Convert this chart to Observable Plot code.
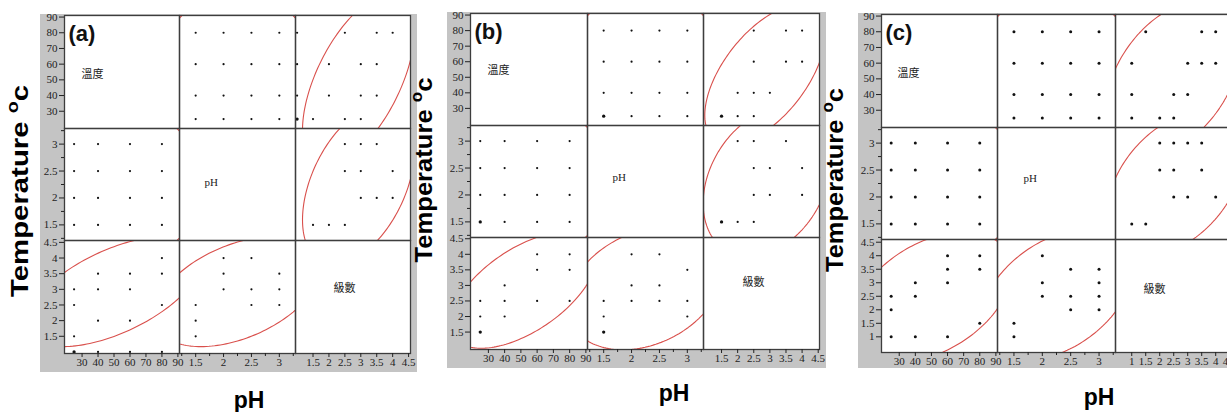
<!DOCTYPE html>
<html>
<head>
<meta charset="utf-8">
<script src="https://cdn.jsdelivr.net/npm/d3@7"></script>
<script src="https://cdn.jsdelivr.net/npm/@observablehq/plot@0.6"></script>
<style>
  html, body { margin: 0; padding: 0; background: #fff; }
  body { width: 1227px; height: 412px; overflow: hidden; position: relative; font-family: "Liberation Sans", Arial, sans-serif; }
  .band { position: absolute; background: #c4c4c4; overflow: hidden; }
  .plotarea { position: absolute; background: #fff; }
  .cell { position: absolute; }
  #titles { position: absolute; left: 0; top: 0; }
</style>
</head>
<body>
<script>
// ---------------- data ----------------
const variableNames = ["溫度", "pH", "級數"];
const tempLevels = [25, 40, 60, 80];
const phLevels = [1.5, 2, 2.5, 3];

const tempTicks = [30, 40, 50, 60, 70, 80, 90];
const phTicks = [1.5, 2, 2.5, 3];
const phMinorTicks = [1.25, 1.75, 2.25, 2.75, 3.25];
const gradeTicksAB = [1.5, 2, 2.5, 3, 3.5, 4, 4.5];
const gradeTicksC = [1, 1.5, 2, 2.5, 3, 3.5, 4, 4.5];

const tempDomain = [19, 91];
const phDomain = [1.21, 3.29];
const gradeDomainA = [0.95, 4.56];
const gradeDomainB = [0.94, 4.54];
const gradeDomainC = [0.42, 4.6];

// extra (replicated) temperature / pH runs beyond the 4x4 grid
const tempPhExtraA = [];
const tempPhExtraB = [[25, 1.5]];
const tempPhExtraC = [];

// [temperature, grade]
const tempGradeA = [[80,1],[80,2.5],[80,3.5],[80,4],[60,1],[60,2],[60,3],[60,3.5],[40,1],[40,2],[40,3],[40,3.5],[25,1],[25,1],[25,1.5],[25,2.5],[25,3]];
const tempGradeB = [[80,2.5],[80,3.5],[80,4],[60,2.5],[60,3.5],[60,4],[40,2],[40,2.5],[40,3],[25,1.5],[25,1.5],[25,2],[25,2.5]];
const tempGradeC = [[80,1.5],[80,3.5],[80,4],[60,1],[60,3],[60,3.5],[60,4],[40,1],[40,2.5],[40,3],[25,1],[25,2],[25,2.5]];

// [pH, grade]
const phGradeA = [[1.5,1.5],[1.5,2],[1.5,2.5],[2,3],[2,3.5],[2,4],[2.5,2.5],[2.5,3],[2.5,4],[3,2.5],[3,3],[3,3.5]];
const phGradeB = [[1.5,1.5],[1.5,1.5],[1.5,2],[1.5,2.5],[2,2.5],[2,3],[2,4],[2.5,2.5],[2.5,3],[2.5,4],[3,2],[3,2.5],[3,3.5]];
const phGradeC = [[1.5,1],[1.5,1.5],[2,2.5],[2,3],[2,4],[2.5,2],[2.5,2.5],[2.5,3.5],[3,2],[3,2.5],[3,3],[3,3.5]];

// 95% density ellipses: [meanX, meanY, halfRangeX, halfRangeY, correlation]
const ellipseTempPhA = [50, 2.25, 55, 1.49, 0];
const ellipseTempGradeA = [50, 2.93, 55, 1.76, 0.58];
const ellipsePhGradeA = [2.25, 2.93, 1.49, 1.76, 0.44];
const ellipseTempPhB = [50, 2.25, 55, 1.5, 0];
const ellipseTempGradeB = [51.7, 2.85, 45.0, 1.87, 0.58];
const ellipsePhGradeB = [2.241, 2.904, 1.388, 1.975, 0.285];
const ellipseTempPhC = [50, 2.25, 55, 1.5, 0];
const ellipseTempGradeC = [50, 2.47, 49.7, 2.41, 0.41];
const ellipsePhGradeC = [2.25, 2.555, 1.34, 2.43, 0.41];

const panelLabels = ["(a)", "(b)", "(c)"];

// ---------------- layout ----------------
const SERIF = "'Liberation Serif', 'Times New Roman', serif";
const SANS = "'Liberation Sans', Arial, sans-serif";
const CJK = "'Noto Sans CJK TC', 'Noto Sans CJK SC', sans-serif";
const RED = "#d9504c";
const fmt = d3.format("~g");

const panelDefs = [
  {label: panelLabels[0], band: [40, 14, 417, 372], xs: [64, 179, 295, 410], ys: [15, 128, 240, 353],
   gradeDomain: gradeDomainA, gradeTicks: gradeTicksAB, tpExtra: tempPhExtraA, tg: tempGradeA, pg: phGradeA,
   etp: ellipseTempPhA, etg: ellipseTempGradeA, epg: ellipsePhGradeA, dotR: 1.1,
   diag: [[17, 2], [25, -2], [38, -9]]},
  {label: panelLabels[1], band: [447, 12, 826, 368], xs: [470, 587, 703, 819], ys: [13, 125, 237, 349],
   gradeDomain: gradeDomainB, gradeTicks: gradeTicksAB, tpExtra: tempPhExtraB, tg: tempGradeB, pg: phGradeB,
   etp: ellipseTempPhB, etg: ellipseTempGradeB, epg: ellipsePhGradeB, dotR: 1.1,
   diag: [[17, 1], [25, -4], [39, -11]]},
  {label: panelLabels[2], band: [858, 13, 1240, 368], xs: [881, 997, 1115, 1232], ys: [14, 127, 239, 352],
   gradeDomain: gradeDomainC, gradeTicks: gradeTicksC, tpExtra: tempPhExtraC, tg: tempGradeC, pg: phGradeC,
   etp: ellipseTempPhC, etg: ellipseTempGradeC, epg: ellipsePhGradeC, dotR: 1.5,
   diag: [[16, 2], [26, -5], [28, -7]]}
];

function ellipsePath([mx, my, ex, ey, r]) {
  const s = Math.sqrt(1 - r * r);
  return d3.range(0, 362, 2).map(deg => {
    const t = deg * Math.PI / 180;
    return [mx + ex * Math.cos(t), my + ey * (r * Math.cos(t) + s * Math.sin(t))];
  });
}

function makeCell(P, vars, pairs, ellipses, i, j) {
  const cw = P.xs[j + 1] - P.xs[j], ch = P.ys[i + 1] - P.ys[i];
  const ml = j === 0 ? 32 : 0, mb = i === 2 ? 24 : 0;
  const vx = vars[j], vy = vars[i];
  const marks = [];
  if (i === j) {
    marks.push(Plot.text([vx.name], {text: d => d, frameAnchor: "left", dx: P.diag[i][0], dy: P.diag[i][1],
      fontSize: 11, fontFamily: i === 1 ? SERIF : CJK, fill: "#222"}));
  } else {
    const a = Math.min(i, j), b = Math.max(i, j);
    const key = `${a}${b}`;
    const flip = j > i;
    const X = flip ? d => d[1] : d => d[0];
    const Y = flip ? d => d[0] : d => d[1];
    marks.push(Plot.line(ellipsePath(ellipses[key]), {x: X, y: Y, stroke: RED, strokeWidth: 1.1, clip: true}));
    marks.push(Plot.dot(pairs[key], Plot.group({r: "count"}, {x: X, y: Y, fill: "#111"})));
  }
  marks.push(Plot.frame({stroke: "#3d3d3d", strokeWidth: 1.3}));
  const hasY = j === 0, hasX = i === 2;
  if (hasY) {
    marks.push(Plot.axisY(vy.ticks, {anchor: "left", tickSize: 5, tickPadding: 2, tickFormat: fmt, fontSize: 11, fontFamily: SERIF, color: "#222", label: null}));
    if (vy.minor.length) marks.push(Plot.axisY(vy.minor, {anchor: "left", tickSize: 3, tickFormat: () => "", color: "#222", label: null}));
  }
  if (hasX) {
    marks.push(Plot.axisX(vx.ticks, {anchor: "bottom", tickSize: 4, tickPadding: 1, tickFormat: fmt, fontSize: 11, fontFamily: SERIF, color: "#222", label: null}));
    if (vx.minor.length) marks.push(Plot.axisX(vx.minor, {anchor: "bottom", tickSize: 3, tickFormat: () => "", color: "#222", label: null}));
  }
  if (i === 0 && j === 0) {
    marks.push(Plot.text([P.label], {text: d => d, frameAnchor: "top-left", dx: 4, dy: 10, lineAnchor: "top",
      fontSize: 22, fontWeight: "bold", fontFamily: SANS, fill: "#111"}));
  }
  const svg = Plot.plot({
    width: cw + ml, height: ch + mb,
    marginLeft: ml, marginRight: 0, marginTop: 0, marginBottom: mb,
    x: hasX ? {domain: vx.domain} : {domain: vx.domain, axis: null},
    y: hasY ? {domain: vy.domain} : {domain: vy.domain, axis: null},
    r: {type: "linear", domain: [1, 2], range: [P.dotR, P.dotR + 0.55]},
    style: {background: "transparent", overflow: "visible"},
    marks
  });
  svg.classList.add("cell");
  svg.style.position = "absolute";
  svg.style.left = (P.xs[j] - ml - P.band[0]) + "px";
  svg.style.top = (P.ys[i] - P.band[1]) + "px";
  return svg;
}

for (const P of panelDefs) {
  const vars = [
    {name: variableNames[0], domain: tempDomain, ticks: tempTicks, minor: []},
    {name: variableNames[1], domain: phDomain, ticks: phTicks, minor: phMinorTicks},
    {name: variableNames[2], domain: P.gradeDomain, ticks: P.gradeTicks, minor: []}
  ];
  const pairs = {
    "01": d3.cross(tempLevels, phLevels).concat(P.tpExtra),
    "02": P.tg,
    "12": P.pg
  };
  const ellipses = {"01": P.etp, "02": P.etg, "12": P.epg};
  const band = document.createElement("div");
  band.className = "band";
  band.style.left = P.band[0] + "px";
  band.style.top = P.band[1] + "px";
  band.style.width = (P.band[2] - P.band[0]) + "px";
  band.style.height = (P.band[3] - P.band[1]) + "px";
  const area = document.createElement("div");
  area.className = "plotarea";
  area.style.left = (P.xs[0] - P.band[0]) + "px";
  area.style.top = (P.ys[0] - P.band[1]) + "px";
  area.style.width = (P.xs[3] - P.xs[0]) + "px";
  area.style.height = (P.ys[3] - P.ys[0]) + "px";
  band.appendChild(area);
  for (let i = 0; i < 3; i++) for (let j = 0; j < 3; j++) band.appendChild(makeCell(P, vars, pairs, ellipses, i, j));
  document.body.appendChild(band);
}

// ---------------- axis titles ----------------
const yTitles = [{x: 28, cy: 191, len: 212}, {x: 432, cy: 170, len: 185}, {x: 843, cy: 180, len: 184}];
const xTitles = [{cx: 249, y: 408}, {cx: 674, y: 401}, {cx: 1099, y: 405}];
const NS = "http://www.w3.org/2000/svg";
const tsvg = document.createElementNS(NS, "svg");
tsvg.setAttribute("id", "titles");
tsvg.setAttribute("width", 1227);
tsvg.setAttribute("height", 412);
for (const t of yTitles) {
  const txt = document.createElementNS(NS, "text");
  txt.setAttribute("transform", `translate(${t.x},${t.cy}) rotate(-90)`);
  txt.setAttribute("text-anchor", "middle");
  txt.setAttribute("font-family", SANS);
  txt.setAttribute("font-weight", "bold");
  txt.setAttribute("font-size", 24);
  txt.setAttribute("textLength", t.len);
  txt.setAttribute("lengthAdjust", "spacingAndGlyphs");
  txt.appendChild(document.createTextNode("Temperature "));
  const sup = document.createElementNS(NS, "tspan");
  sup.setAttribute("font-size", 16);
  sup.setAttribute("dy", -10);
  sup.textContent = "o";
  txt.appendChild(sup);
  const c = document.createElementNS(NS, "tspan");
  c.setAttribute("dy", 10);
  c.textContent = "c";
  txt.appendChild(c);
  tsvg.appendChild(txt);
}
for (const t of xTitles) {
  const txt = document.createElementNS(NS, "text");
  txt.setAttribute("x", t.cx);
  txt.setAttribute("y", t.y);
  txt.setAttribute("text-anchor", "middle");
  txt.setAttribute("font-family", SANS);
  txt.setAttribute("font-weight", "bold");
  txt.setAttribute("font-size", 23);
  txt.textContent = "pH";
  tsvg.appendChild(txt);
}
document.body.appendChild(tsvg);
</script>
</body>
</html>
